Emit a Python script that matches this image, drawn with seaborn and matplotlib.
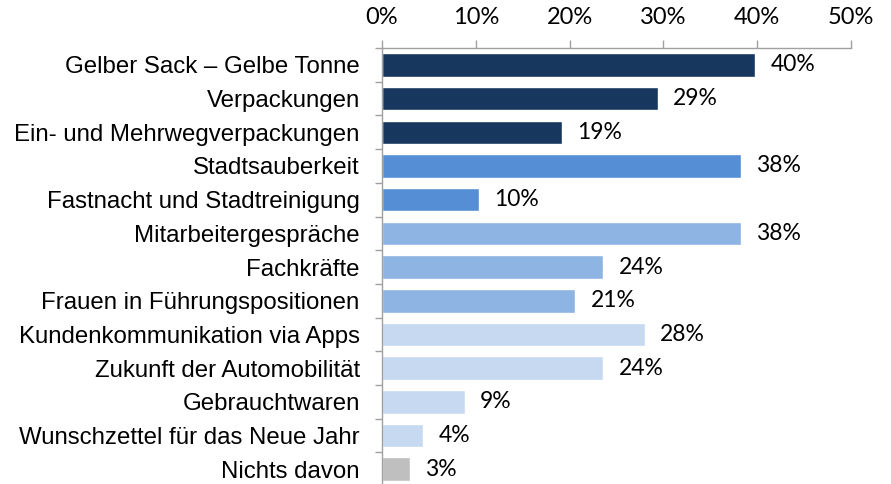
import matplotlib
matplotlib.use("Agg")
import matplotlib.pyplot as plt
import seaborn as sns
import pandas as pd
from matplotlib.ticker import FixedLocator

categories = [
    "Gelber Sack – Gelbe Tonne",
    "Verpackungen",
    "Ein- und Mehrwegverpackungen",
    "Stadtsauberkeit",
    "Fastnacht und Stadtreinigung",
    "Mitarbeitergespräche",
    "Fachkräfte",
    "Frauen in Führungspositionen",
    "Kundenkommunikation via Apps",
    "Zukunft der Automobilität",
    "Gebrauchtwaren",
    "Wunschzettel für das Neue Jahr",
    "Nichts davon",
]
values = [39.8, 29.4, 19.2, 38.3, 10.3, 38.3, 23.6, 20.6, 28.0, 23.6, 8.8, 4.4, 3.0]
bar_colors = ["#17375E", "#17375E", "#17375E", "#558ED5", "#558ED5",
              "#8EB4E3", "#8EB4E3", "#8EB4E3", "#C6D9F1", "#C6D9F1",
              "#C6D9F1", "#C6D9F1", "#BFBFBF"]
x_ticks = [0, 10, 20, 30, 40, 50]

df = pd.DataFrame({"category": categories, "value": values})

sns.set_theme(style="white")
fig = plt.figure(figsize=(8.91, 4.84), dpi=100)
ax = fig.add_axes([0.4287, 0.0, 0.955 - 0.4287, 0.901])

sns.barplot(data=df, y="category", x="value", hue="category",
            palette=dict(zip(categories, bar_colors)), legend=False,
            orient="h", width=0.70, ax=ax, saturation=1)

ax.set_xlim(0, 50)
ax.set_ylim(12.44, -0.505)
ax.xaxis.tick_top()
ax.set_xticks(x_ticks)
ax.set_xticklabels([f"{t}%" for t in x_ticks], fontsize=17, family="Lato", color="black")
ax.tick_params(axis="x", direction="out", length=6, width=1, color="#A0A0A0",
               pad=8, top=True, bottom=False, labeltop=True, labelbottom=False)
ax.set_xlabel("")
ax.set_ylabel("")

ax.set_yticks(range(len(categories)))
ax.set_yticklabels(categories, fontsize=17.3, family="Liberation Sans", color="black")
ax.tick_params(axis="y", which="major", length=0, pad=16)
ax.yaxis.set_minor_locator(FixedLocator([i + 0.5 for i in range(-1, len(categories))]))
ax.tick_params(axis="y", which="minor", length=5, width=1, color="#A0A0A0", left=True, direction="out")

for s in ["right", "bottom"]:
    ax.spines[s].set_visible(False)
for s in ["top", "left"]:
    ax.spines[s].set_color("#A0A0A0")
    ax.spines[s].set_linewidth(1)

for cont in ax.containers:
    ax.bar_label(cont, labels=[f"{round(v.get_width())}%" for v in cont],
                 padding=11, fontsize=16.5, family="Lato", color="black")

fig.savefig("out.png", dpi=100)
